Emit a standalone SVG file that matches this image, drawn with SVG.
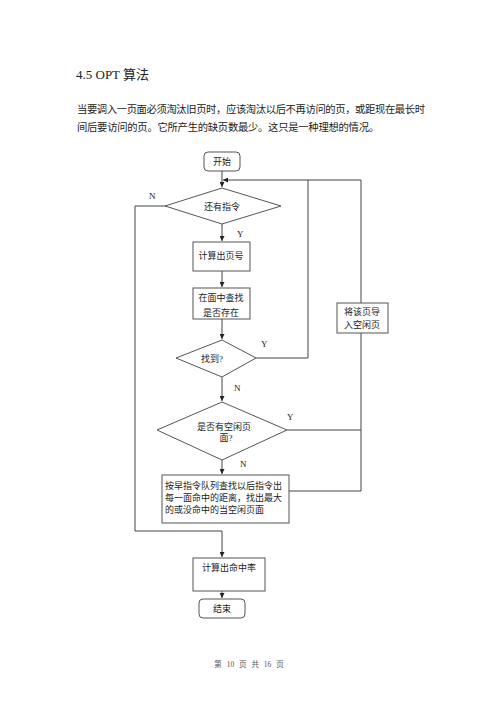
<svg xmlns="http://www.w3.org/2000/svg" width="500" height="707" viewBox="0 0 500 707">
<style>
.t{font-family:"Liberation Serif","Noto Sans CJK SC",serif;fill:#222}
.n{font-size:9px;text-anchor:middle}
.lab{font-size:9px;font-family:"Liberation Serif",serif;fill:#222}
.s{fill:#fff;stroke:#555;stroke-width:1}
.c{fill:none;stroke:#444;stroke-width:1}
</style>
<defs>
<marker id="a" viewBox="0 0 8 8" refX="8" refY="4" markerWidth="5" markerHeight="5" orient="auto" markerUnits="userSpaceOnUse">
<path d="M0,0L8,4L0,8z" fill="#222"/>
</marker>
</defs>
<rect width="500" height="707" fill="#fff"/>
<text class="t" x="76" y="79" font-size="13">4.5 OPT 算法</text>
<text class="t" x="77" y="113" font-size="10.3" textLength="348" lengthAdjust="spacing">当要调入一页面必须淘汰旧页时，应该淘汰以后不再访问的页，或距现在最长时</text>
<text class="t" x="77" y="131" font-size="10.3" textLength="302" lengthAdjust="spacing">间后要访问的页。它所产生的缺页数最少。这只是一种理想的情况。</text>

<g id="connectors">
<path class="c" d="M222,171V187" marker-end="url(#a)"/>
<path class="c" d="M361,180H223" marker-end="url(#a)"/>
<path class="c" d="M256,358H308V180"/>
<path class="c" d="M361,303V180"/>
<path class="c" d="M289,491H361V333"/>
<path class="c" d="M287,430H361"/>
<path class="c" d="M222,224V241" marker-end="url(#a)"/>
<path class="c" d="M222,271V287" marker-end="url(#a)"/>
<path class="c" d="M222,319V339" marker-end="url(#a)"/>
<path class="c" d="M222,377V401" marker-end="url(#a)"/>
<path class="c" d="M222,460V474" marker-end="url(#a)"/>
<path class="c" d="M165,206H135V531H222V557" marker-end="url(#a)"/>
<path class="c" d="M222,581V598" marker-end="url(#a)"/>
</g>

<g id="start"><rect class="s" x="204" y="152" width="36" height="19" rx="4"/><text class="t n" x="222" y="165">开始</text></g>
<g id="d1"><polygon class="s" points="222,188 281,206 222,224 165,206"/><text class="t n" x="222" y="210">还有指令</text></g>
<g id="b1"><rect class="s" x="193" y="242" width="57" height="29"/><text class="t n" x="221" y="259">计算出页号</text></g>
<g id="b2"><rect class="s" x="193" y="288" width="57" height="31"/><text class="t n" x="221" y="301">在面中查找</text><text class="t n" x="221" y="316">是否存在</text></g>
<g id="d2"><polygon class="s" points="222,340 256,358 222,377 176,358"/><text class="t n" x="212" y="362">找到?</text></g>
<g id="b3"><rect class="s" x="337" y="303" width="51" height="30"/><text class="t n" x="362" y="315">将该页导</text><text class="t n" x="362" y="328">入空闲页</text></g>
<g id="d3"><polygon class="s" points="222,402 287,430 222,460 157,430"/><text class="t n" x="224" y="430">是否有空闲页</text><text class="t n" x="226" y="441">面?</text></g>
<g id="b4"><rect class="s" x="162" y="475" width="127" height="48"/>
<text class="t" font-size="9" x="165" y="489">按早指令队列查找以后指令出</text>
<text class="t" font-size="9" x="165" y="501">每一面命中的距离，找出最大</text>
<text class="t" font-size="9" x="165" y="513">的或没命中的当空闲页面</text></g>
<g id="b5"><rect class="s" x="193" y="558" width="72" height="33"/><text class="t n" x="229" y="571">计算出命中率</text></g>
<g id="end"><rect class="s" x="199" y="599" width="46" height="19" rx="4"/><text class="t n" x="222" y="612">结束</text></g>

<g id="labels">
<text class="lab" x="149" y="199">N</text>
<text class="lab" x="237" y="237">Y</text>
<text class="lab" x="261" y="347">Y</text>
<text class="lab" x="234" y="391">N</text>
<text class="lab" x="287" y="420">Y</text>
<text class="lab" x="240" y="467">N</text>
</g>
<text class="t" x="249" y="667" font-size="7.5" text-anchor="middle" word-spacing="3" style="fill:#555">第 10 页 共 16 页</text>
</svg>
